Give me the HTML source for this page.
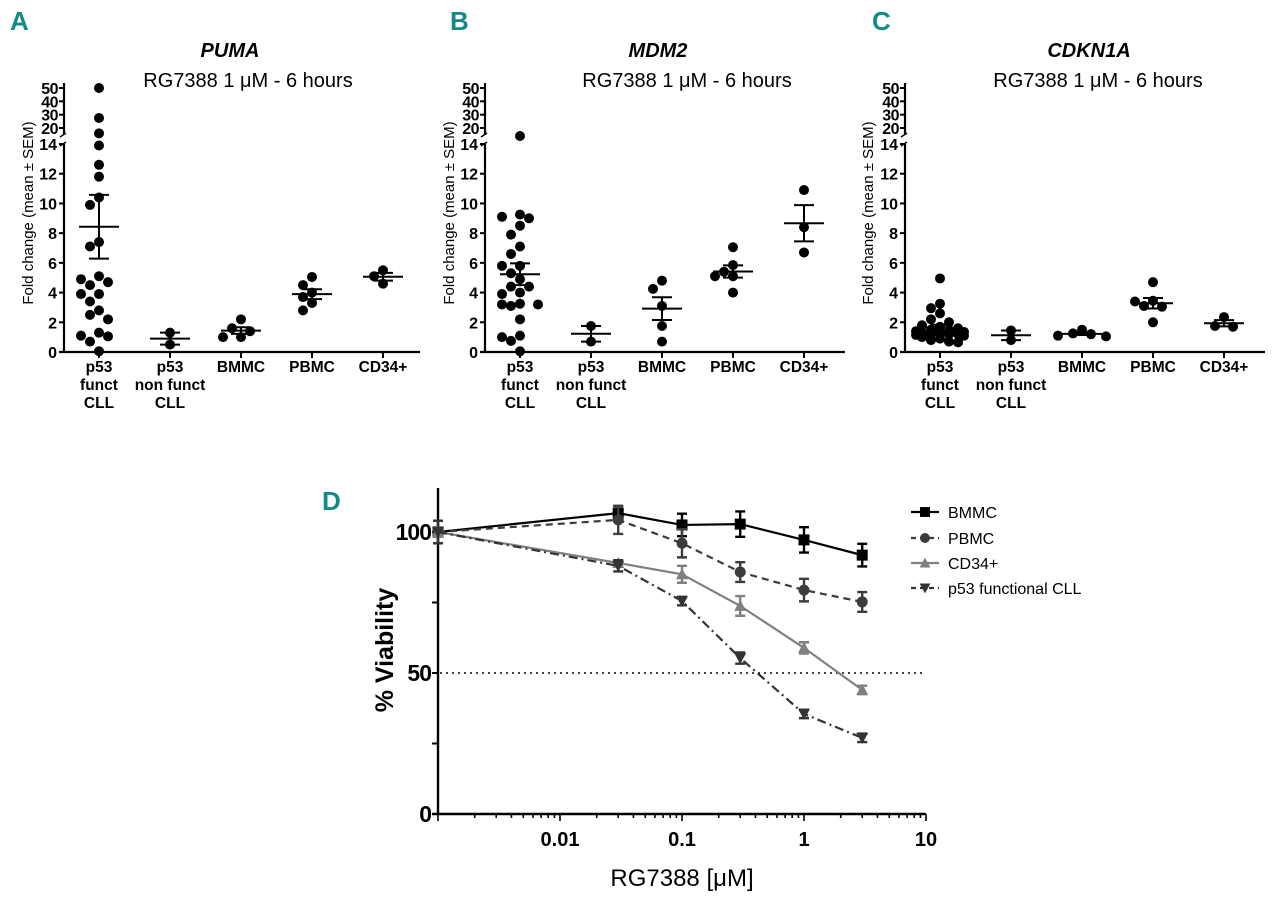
<!DOCTYPE html>
<html><head><meta charset="utf-8"><style>
html,body{margin:0;padding:0;background:#fff;}
svg{display:block;font-family:"Liberation Sans",sans-serif;}
</style></head><body>
<svg id="fig" width="1280" height="903" viewBox="0 0 1280 903" xmlns="http://www.w3.org/2000/svg">
<g id="root"></g>
</svg>
<script>
// ---------- scatter panel data ----------
const categories = ["p53|funct|CLL","p53|non funct|CLL","BMMC","PBMC","CD34+"];
const lowerTicks = [0,2,4,6,8,10,12,14];
const upperTicks = [20,30,40,50];
const pumaP53 = [50,27.5,18,13.9,12.6,11.8,10.4,9.9,7.4,7.1,5.1,4.9,4.7,4.5,3.9,3.9,3.4,2.8,2.5,2.2,1.3,1.1,1.05,0.7,0.05];
const pumaNon = [1.3,0.5];
const pumaBMMC = [2.2,1.6,1.4,1.0,1.0];
const pumaPBMC = [5.05,4.5,4.0,3.7,3.3,2.8];
const pumaCD34 = [5.5,5.1,4.6];
const mdm2P53 = [17,9.25,9.1,9.0,8.5,7.9,7.1,6.6,5.8,5.8,5.3,4.9,4.4,4.4,4.0,3.9,3.25,3.2,3.2,3.1,2.2,1.1,1.0,0.75,0.05];
const mdm2Non = [1.75,0.7];
const mdm2BMMC = [4.8,4.25,3.1,1.75,0.7];
const mdm2PBMC = [7.05,5.85,5.4,5.1,5.1,4.0];
const mdm2CD34 = [10.9,8.4,6.7];
const cdkP53 = [4.95,3.25,2.95,2.6,2.2,2.0,1.8,1.7,1.6,1.5,1.4,1.4,1.35,1.3,1.25,1.2,1.2,1.2,1.15,1.1,1.0,0.9,0.8,0.7,0.65];
const cdkNon = [1.45,0.8];
const cdkBMMC = [1.5,1.25,1.2,1.1,1.05];
const cdkPBMC = [4.7,3.45,3.4,3.1,3.05,2.0];
const cdkCD34 = [2.35,1.75,1.7];

// ---------- viability data ----------
const doses = [0.001,0.03,0.1,0.3,1,3];
const vBMMC = [100,106.7,102.5,102.8,97.2,91.8];
const eBMMC = [4,2.5,4,4.5,4.5,4];
const vPBMC = [100,104.3,96,85.8,79.4,75.2];
const ePBMC = [4,5,5,3.5,4,3.5];
const vCD34 = [100,89,85,73.8,58.9,44];
const eCD34 = [4,1,3,3.5,2,1.5];
const vP53 = [100,88,75.5,55.3,35.5,27];
const eP53 = [4,2,1.5,2,1.5,1.5];
const xTickVals = [0.01,0.1,1,10];
const yTickVals = [0,50,100];
const legendNames = ["BMMC","PBMC","CD34+","p53 functional CLL"];

const NS="http://www.w3.org/2000/svg";
const root=document.getElementById('root');
function mk(tag,attrs,parent){const e=document.createElementNS(NS,tag);for(const k in attrs)e.setAttribute(k,attrs[k]);(parent||root).appendChild(e);return e;}
function txt(s,attrs,parent){const e=mk('text',attrs,parent);e.textContent=s;return e;}

function scatterPanel(letter,letterX,title,titleX,subX,axisX,xEnd,labelX,groups){
  const g=mk('g',{});
  
  
  const y0=352, yL14=144;
  const ppu=(y0-yL14)/14;
  function ys(v){ if(v<=14) return y0-v*ppu; if(v<20) return 144-(v-14)/6*16; return 128-(v-20)*(40/30); }
  const L=txt(letter,{x:letterX,y:30,'font-size':26,'font-weight':'bold',fill:'#138a86','font-family':'"Liberation Sans Narrow","Liberation Sans",sans-serif'},g);
  
  
  const t=txt(title,{x:titleX,y:57,'font-size':20,'font-weight':'bold','font-style':'italic','text-anchor':'middle'},g);
  
  
  const st=txt('RG7388 1 \u03BCM - 6 hours',{x:subX,y:87,'font-size':20,'text-anchor':'middle'},g);
  
  
  mk('line',{x1:axisX,y1:y0,x2:axisX,y2:144,stroke:'#000','stroke-width':2.2},g);
  mk('line',{x1:axisX,y1:135,x2:axisX,y2:83,stroke:'#000','stroke-width':2.2},g);
  mk('line',{x1:axisX-4,y1:146,x2:axisX+2,y2:142,stroke:'#000','stroke-width':1.5},g);
  mk('line',{x1:axisX-4,y1:137,x2:axisX+2,y2:133,stroke:'#000','stroke-width':1.5},g);
  const xa=mk('line',{x1:axisX-5,y1:y0,x2:xEnd,y2:y0,stroke:'#000','stroke-width':2.2},g);
  
  
  lowerTicks.forEach(v=>{const y=ys(v);mk('line',{x1:axisX-5,y1:y,x2:axisX,y2:y,stroke:'#000','stroke-width':2},g);
    const tl=txt(String(v),{x:axisX-7,y:y+6,'font-size':16,'font-weight':'bold','text-anchor':'end'},g);
    
    });
  upperTicks.forEach(v=>{const y=ys(v);mk('line',{x1:axisX-5,y1:y,x2:axisX,y2:y,stroke:'#000','stroke-width':2},g);
    const tl=txt(String(v),{x:axisX-6,y:y+6,'font-size':16,'font-weight':'bold','text-anchor':'end','letter-spacing':'-0.5'},g);
    
    });
  const yl=txt('Fold change (mean \u00B1 SEM)',{x:0,y:0,'font-size':15,'text-anchor':'middle',transform:`translate(${labelX},213) rotate(-90)`},g);
  
  
  groups.forEach((vals,i)=>{
    const cx=axisX+35+i*71;
    mk('line',{x1:cx,y1:y0,x2:cx,y2:y0+6,stroke:'#000','stroke-width':2},g);
    categories[i].split('|').forEach((s,j)=>{const cl=txt(s,{x:cx,y:372+j*18,'font-size':15.5,'font-weight':'bold','text-anchor':'middle'},g);
      
      });
    const placed=[];
    const sorted=vals.slice().sort((a,b)=>b-a);
    sorted.forEach(v=>{
      const y=ys(v);
      const cands=[0,-9,9,-18,18,-24,24];
      let px=null, best=-1, bestX=cx;
      for(const o of cands){const x=cx+o;
        const md=placed.length?Math.min(...placed.map(p=>Math.hypot(p[0]-x,p[1]-y))):99;
        if(md>=9.5){px=x;break;}
        if(md>best){best=md;bestX=x;}}
      if(px===null) px=bestX;
      placed.push([px,y]);
      const d=mk('circle',{cx:px,cy:y,r:5,fill:'#000'},g);
      
      
    });
    const n=vals.length, mean=vals.reduce((a,b)=>a+b,0)/n;
    const sd=Math.sqrt(vals.reduce((a,b)=>a+(b-mean)*(b-mean),0)/(n-1));
    const sem=sd/Math.sqrt(n);
    const eb=mk('g',{stroke:'#000','stroke-width':2},g);
    
    
    mk('line',{x1:cx-20,y1:ys(mean),x2:cx+20,y2:ys(mean)},eb);
    mk('line',{x1:cx,y1:ys(mean-sem),x2:cx,y2:ys(mean+sem)},eb);
    mk('line',{x1:cx-10,y1:ys(mean+sem),x2:cx+10,y2:ys(mean+sem)},eb);
    mk('line',{x1:cx-10,y1:ys(mean-sem),x2:cx+10,y2:ys(mean-sem)},eb);
  });
}
scatterPanel('A',10,'PUMA',230,248,64,420,33,[pumaP53,pumaNon,pumaBMMC,pumaPBMC,pumaCD34]);
scatterPanel('B',450,'MDM2',658,687,485,845,454,[mdm2P53,mdm2Non,mdm2BMMC,mdm2PBMC,mdm2CD34]);
scatterPanel('C',872,'CDKN1A',1089,1098,905,1265,873,[cdkP53,cdkNon,cdkBMMC,cdkPBMC,cdkCD34]);

// ---------- panel D ----------
(function(){
  const g=mk('g',{});
  
  
  const ax=438, y0=814, ppu=(814-532)/100, dec=122;
  const X=v=>ax+(Math.log10(v)+3)*dec;
  const Y=v=>y0-v*ppu;
  const L=txt('D',{x:322,y:510,'font-size':26,'font-weight':'bold',fill:'#138a86','font-family':'"Liberation Sans Narrow","Liberation Sans",sans-serif'},g);
  
  
  const ya=mk('line',{x1:ax,y1:488,x2:ax,y2:y0+1,stroke:'#000','stroke-width':2.4},g);
  
  
  const xa=mk('line',{x1:ax-6,y1:y0,x2:X(10),y2:y0,stroke:'#000','stroke-width':2.4},g);
  
  
  [25,75].forEach(v=>mk('line',{x1:ax-6,y1:Y(v),x2:ax,y2:Y(v),stroke:'#000','stroke-width':2},g));
  yTickVals.forEach(v=>{mk('line',{x1:ax-6,y1:Y(v),x2:ax,y2:Y(v),stroke:'#000','stroke-width':2},g);
    const t=txt(String(v),{x:ax-7,y:Y(v)+8,'font-size':23,'font-weight':'bold','text-anchor':'end','letter-spacing':'-1'},g);
    
    });
  for(let e=-3;e<1;e++){for(let m=1;m<10;m++){const v=m*Math.pow(10,e);const x=X(v);
    mk('line',{x1:x,y1:y0,x2:x,y2:y0+(m===1?7:4),stroke:'#000','stroke-width':1.6},g);}}
  mk('line',{x1:X(10),y1:y0,x2:X(10),y2:y0+7,stroke:'#000','stroke-width':1.6},g);
  xTickVals.forEach(v=>{const t=txt(String(v),{x:X(v),y:y0+32,'font-size':20,'font-weight':'bold','text-anchor':'middle'},g);
    
    });
  const xt=txt('RG7388 [\u03BCM]',{x:682,y:886,'font-size':24,'text-anchor':'middle'},g);
  
  
  const yt=txt('% Viability',{x:0,y:0,'font-size':25,'font-weight':'bold','text-anchor':'middle',transform:'translate(393,650) rotate(-90)'},g);
  
  
  const ref=mk('line',{x1:ax+2,y1:Y(50),x2:X(10),y2:Y(50),stroke:'#000','stroke-width':1.6,'stroke-dasharray':'2 4'},g);
  
  
  const series=[
    {v:vBMMC,e:eBMMC,c:'#000',dash:'',m:'square'},
    {v:vPBMC,e:ePBMC,c:'#3c3c3c',dash:'7 5',m:'circle'},
    {v:vCD34,e:eCD34,c:'#808080',dash:'',m:'tri'},
    {v:vP53,e:eP53,c:'#333',dash:'9 4 2 4',m:'tridown'}];
  function marker(m,x,y,c,parent,s){s=s||1;
    if(m==='square') return mk('rect',{x:x-5.5*s,y:y-5.5*s,width:11*s,height:11*s,fill:c},parent);
    if(m==='circle') return mk('circle',{cx:x,cy:y,r:5.5*s,fill:c},parent);
    if(m==='tri') return mk('path',{d:`M${x-6*s},${y+5*s}L${x+6*s},${y+5*s}L${x},${y-6*s}Z`,fill:c},parent);
    return mk('path',{d:`M${x-6*s},${y-5*s}L${x+6*s},${y-5*s}L${x},${y+6*s}Z`,fill:c},parent);}
  series.forEach((s,si)=>{
    const sg=mk('g',{},g);
    
    
    const pts=doses.map((d,i)=>X(d)+','+Y(s.v[i])).join(' ');
    const pl=mk('polyline',{points:pts,fill:'none',stroke:s.c,'stroke-width':2.2,'stroke-dasharray':s.dash},sg);
    
    
    doses.forEach((d,i)=>{const x=X(d),y=Y(s.v[i]),e=s.e[i]*ppu;
      mk('path',{d:`M${x},${y-e}V${y+e}M${x-5},${y-e}H${x+5}M${x-5},${y+e}H${x+5}`,stroke:s.c,'stroke-width':2.4,fill:'none'},sg);
      const mm=marker(s.m,x,y,s.c,sg);
      
      });
  });
  const legY=[512,538,563,588];
  series.forEach((s,i)=>{
    const lg=mk('g',{},g);
    
    
    mk('line',{x1:911,y1:legY[i],x2:939,y2:legY[i],stroke:s.c,'stroke-width':2.2,'stroke-dasharray':s.dash?'5 4':''},lg);
    marker(s.m,925,legY[i],s.c,lg,0.9);
    txt(legendNames[i],{x:948,y:legY[i]+6,'font-size':16},lg);
  });
})();
</script>
</body></html>
